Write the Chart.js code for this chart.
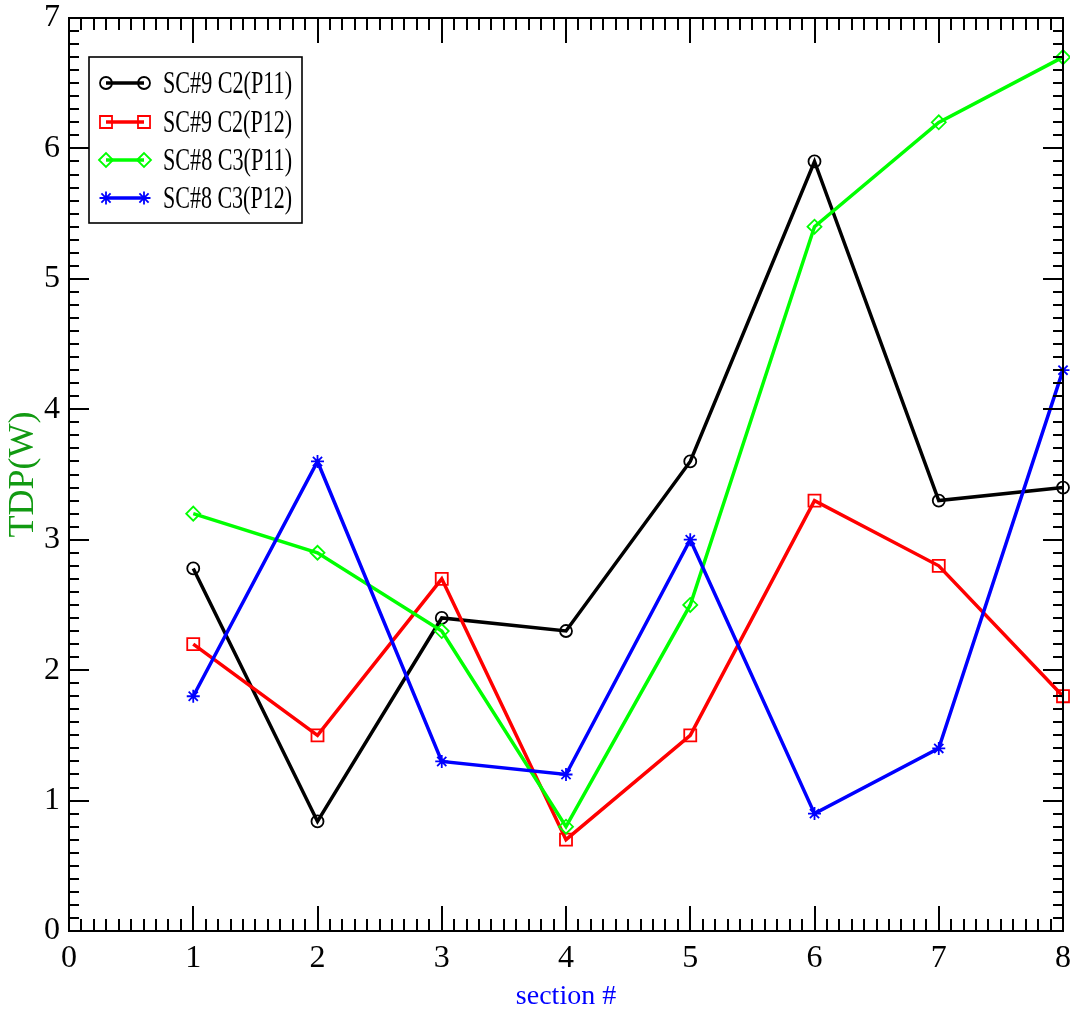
<!DOCTYPE html>
<html><head><meta charset="utf-8">
<script src="https://cdn.jsdelivr.net/npm/chart.js@4.4.1/dist/chart.umd.min.js"></script>
<style>html,body{margin:0;padding:0;background:#fff;} #wrap{width:1070px;height:1011px;}</style>
</head><body><div id="wrap"><canvas id="c" width="1070" height="1011"></canvas></div>
<script>
const sections = [1, 2, 3, 4, 5, 6, 7, 8];
const seriesNames = ['SC#9 C2(P11)', 'SC#9 C2(P12)', 'SC#8 C3(P11)', 'SC#8 C3(P12)'];
const sc9P11 = [2.78, 0.84, 2.4, 2.3, 3.6, 5.9, 3.3, 3.4];
const sc9P12 = [2.2, 1.5, 2.7, 0.7, 1.5, 3.3, 2.8, 1.8];
const sc8P11 = [3.2, 2.9, 2.3, 0.8, 2.5, 5.4, 6.2, 6.7];
const sc8P12 = [1.8, 3.6, 1.3, 1.2, 3.0, 0.9, 1.4, 4.3];
const xTickLabels = ['0', '1', '2', '3', '4', '5', '6', '7', '8'];
const yTickLabels = ['0', '1', '2', '3', '4', '5', '6', '7'];

const FONT = "'Liberation Serif', 'Times New Roman', serif";
const colors = ['#000000', '#ff0000', '#00ff00', '#0000ff'];
const pStyles = ['circle', 'rect', 'rectRot', 'star'];
const pRadius = [6, 8.5, 7, 6.5];
const allSeries = [sc9P11, sc9P12, sc8P11, sc8P12];

const datasets = allSeries.map((vals, i) => ({
  label: seriesNames[i],
  data: sections.map((x, j) => ({x: x, y: vals[j]})),
  borderColor: colors[i],
  backgroundColor: 'rgba(0,0,0,0)',
  borderWidth: 3.5,
  pointStyle: pStyles[i],
  pointRadius: pRadius[i],
  pointBorderWidth: 1.8,
  pointBorderColor: colors[i],
  pointBackgroundColor: 'rgba(0,0,0,0)',
  tension: 0,
  clip: false,
  order: 3 - i
}));

const areaFix = {
  id: 'areaFix',
  afterLayout(chart) {
    const right = chart.width - 7;
    const xs = chart.scales.x;
    chart.chartArea.right = right;
    chart.chartArea.width = right - chart.chartArea.left;
    xs.right = right;
    xs.width = right - xs.left;
    if (typeof xs.configure === 'function') xs.configure();
  }
};

const frameTicks = {
  id: 'frameTicks',
  afterDatasetsDraw(chart) {
    const ctx = chart.ctx, a = chart.chartArea;
    const xs = chart.scales.x, ys = chart.scales.y;
    ctx.save();
    ctx.strokeStyle = '#000';
    ctx.lineWidth = 2;
    ctx.lineCap = 'butt';
    ctx.beginPath();
    for (let i = 1; i < 80; i++) {
      const px = Math.round(xs.getPixelForValue(i / 10));
      const len = (i % 10 === 0) ? 25 : 12;
      ctx.moveTo(px, a.bottom); ctx.lineTo(px, a.bottom - len);
      ctx.moveTo(px, a.top); ctx.lineTo(px, a.top + len);
    }
    for (let i = 1; i < 70; i++) {
      const py = Math.round(ys.getPixelForValue(i / 10));
      const len = (i % 10 === 0) ? 20 : 10;
      ctx.moveTo(a.left, py); ctx.lineTo(a.left + len, py);
      ctx.moveTo(a.right, py); ctx.lineTo(a.right - len, py);
    }
    ctx.stroke();
    ctx.strokeRect(a.left, a.top, a.right - a.left, a.bottom - a.top);
    ctx.restore();
  }
};

const legendBox = {
  id: 'legendBox',
  afterDraw(chart) {
    const ctx = chart.ctx, a = chart.chartArea;
    const bx = a.left + 20, by = a.top + 39, bw = 213, bh = 166;
    ctx.save();
    ctx.fillStyle = '#fff';
    ctx.fillRect(bx, by, bw, bh);
    ctx.strokeStyle = '#000';
    ctx.lineWidth = 1.6;
    ctx.strokeRect(bx, by, bw, bh);
    const rows = [26, 65, 103, 141];
    seriesNames.forEach((name, i) => {
      const cy = by + rows[i];
      const x1 = bx + 17, x2 = bx + 55;
      ctx.strokeStyle = colors[i];
      ctx.lineWidth = 3.5;
      ctx.beginPath(); ctx.moveTo(x1, cy); ctx.lineTo(x2, cy); ctx.stroke();
      ctx.fillStyle = 'rgba(0,0,0,0)';
      ctx.lineWidth = 1.8;
      const opts = {pointStyle: pStyles[i], radius: pRadius[i], rotation: 0, borderWidth: 1.8};
      Chart.helpers.drawPoint(ctx, opts, x1, cy);
      Chart.helpers.drawPoint(ctx, opts, x2, cy);
      ctx.fillStyle = '#000';
      ctx.font = '31px ' + FONT;
      ctx.textBaseline = 'alphabetic';
      ctx.textAlign = 'left';
      const w = ctx.measureText(name).width;
      const sx = 129 / w;
      ctx.save();
      ctx.translate(bx + 74, cy + 10);
      ctx.scale(sx, 1);
      ctx.fillText(name, 0, 0);
      ctx.restore();
    });
    ctx.restore();
  }
};

new Chart(document.getElementById('c'), {
  type: 'line',
  data: {datasets: datasets},
  plugins: [areaFix, frameTicks, legendBox],
  options: {
    responsive: false,
    animation: false,
    devicePixelRatio: 1,
    layout: {padding: {top: 18, right: 7, left: 0, bottom: 0}},
    plugins: {legend: {display: false}, tooltip: {enabled: false}},
    scales: {
      x: {
        type: 'linear', min: 0, max: 8,
        afterFit(s) { s.height = 80; s.paddingLeft = 0; s.paddingRight = 0; },
        grid: {display: false, drawTicks: false},
        border: {display: false},
        ticks: {
          stepSize: 1, autoSkip: false, maxRotation: 0, padding: 8,
          color: '#000', font: {family: FONT, size: 32},
          callback: (v) => xTickLabels[Math.round(v)]
        },
        title: {display: true, text: 'section #', color: '#0000ff',
          font: {family: FONT, size: 28, lineHeight: 1}, padding: {top: 0, bottom: 0}}
      },
      y: {
        type: 'linear', min: 0, max: 7,
        afterFit(s) { s.width = 69; s.paddingTop = 0; s.paddingBottom = 0; },
        grid: {display: false, drawTicks: false},
        border: {display: false},
        ticks: {
          stepSize: 1, autoSkip: false, padding: 9,
          color: '#000', font: {family: FONT, size: 32},
          callback: (v) => yTickLabels[Math.round(v)]
        },
        title: {display: true, text: 'TDP(W)', color: '#129a12',
          font: {family: FONT, size: 36, lineHeight: 1}, padding: {top: 6, bottom: 0}}
      }
    }
  }
});
</script>
</body></html>
